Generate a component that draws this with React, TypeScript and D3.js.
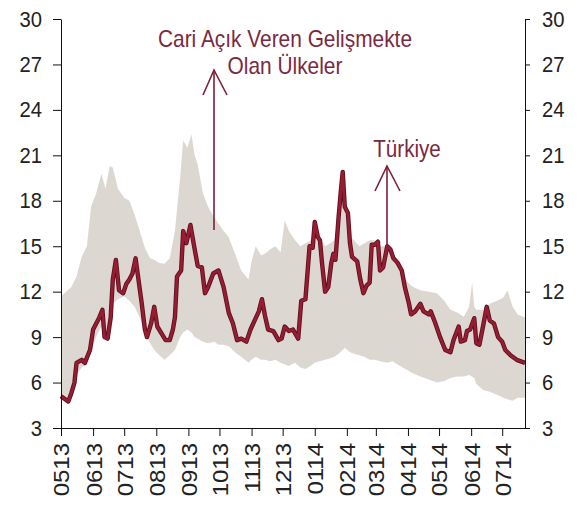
import React, { useEffect, useRef } from "react";
import * as d3 from "d3";

const domainStart = "2013-05-01";
const domainEnd = "2014-07-23";

const yTicks = [3, 6, 9, 12, 15, 18, 21, 24, 27, 30];

const xTickDates = [
  "2013-05-01", "2013-06-01", "2013-07-01", "2013-08-01", "2013-09-01",
  "2013-10-01", "2013-11-01", "2013-12-01", "2014-01-01", "2014-02-01",
  "2014-03-01", "2014-04-01", "2014-05-01", "2014-06-01", "2014-07-01",
];
const xTickLabels = [
  "0513", "0613", "0713", "0813", "0913", "1013", "1113", "1213",
  "0114", "0214", "0314", "0414", "0514", "0614", "0714",
];

const turkeyDates = [
  "2013-05-01", "2013-05-08", "2013-05-11", "2013-05-14", "2013-05-16", "2013-05-21",
  "2013-05-24", "2013-05-29", "2013-06-01", "2013-06-04", "2013-06-07", "2013-06-10",
  "2013-06-12", "2013-06-15", "2013-06-18", "2013-06-20", "2013-06-23", "2013-06-26",
  "2013-06-30", "2013-07-03", "2013-07-06", "2013-07-09", "2013-07-12", "2013-07-14",
  "2013-07-18", "2013-07-21", "2013-07-23", "2013-07-27", "2013-07-30", "2013-08-02",
  "2013-08-06", "2013-08-10", "2013-08-14", "2013-08-17", "2013-08-19", "2013-08-21",
  "2013-08-25", "2013-08-27", "2013-08-30", "2013-09-03", "2013-09-06", "2013-09-10",
  "2013-09-14", "2013-09-17", "2013-09-20", "2013-09-25", "2013-09-30", "2013-10-05",
  "2013-10-10", "2013-10-14", "2013-10-18", "2013-10-22", "2013-10-27", "2013-10-31",
  "2013-11-04", "2013-11-08", "2013-11-11", "2013-11-14", "2013-11-17", "2013-11-22",
  "2013-11-27", "2013-11-30", "2013-12-03", "2013-12-07", "2013-12-11", "2013-12-16",
  "2013-12-19", "2013-12-23", "2013-12-27", "2013-12-30", "2014-01-01", "2014-01-04",
  "2014-01-06", "2014-01-08", "2014-01-11", "2014-01-14", "2014-01-17", "2014-01-19",
  "2014-01-21", "2014-01-24", "2014-01-26", "2014-01-28", "2014-01-30", "2014-02-02",
  "2014-02-04", "2014-02-06", "2014-02-11", "2014-02-14", "2014-02-17", "2014-02-20",
  "2014-02-23", "2014-02-25", "2014-02-28", "2014-03-03", "2014-03-05", "2014-03-08",
  "2014-03-12", "2014-03-15", "2014-03-18", "2014-03-22", "2014-03-26", "2014-03-29",
  "2014-04-02", "2014-04-04", "2014-04-08", "2014-04-13", "2014-04-16", "2014-04-21",
  "2014-04-23", "2014-04-27", "2014-05-02", "2014-05-07", "2014-05-12", "2014-05-15",
  "2014-05-20", "2014-05-22", "2014-05-26", "2014-05-28", "2014-05-31", "2014-06-04",
  "2014-06-06", "2014-06-09", "2014-06-13", "2014-06-16", "2014-06-19", "2014-06-23",
  "2014-06-27", "2014-07-01", "2014-07-04", "2014-07-09", "2014-07-15", "2014-07-23",
];
const turkeyValues = [
  5.1, 4.75, 5.3, 6.0, 7.3, 7.5,
  7.3, 8.15, 9.5, 9.9, 10.3, 10.8,
  9.0, 8.9, 10.3, 12.8, 14.1, 12.1,
  11.9, 12.5, 12.8, 13.2, 14.2, 13.2,
  11.2, 9.5, 9.0, 9.9, 11.0, 9.7,
  9.25, 8.8, 8.8, 9.5, 10.3, 13.0,
  13.4, 16.0, 15.2, 16.4, 15.2, 13.7,
  13.6, 11.9, 12.3, 13.2, 13.4, 12.3,
  10.6, 9.9, 8.8, 8.9, 8.7, 9.5,
  10.1, 10.7, 11.5, 10.4, 9.5, 9.4,
  8.8, 8.9, 9.7, 9.4, 9.5, 8.9,
  11.4, 11.5, 15.0, 14.9, 16.6, 15.6,
  15.4, 13.9, 12.0, 12.3, 13.9, 14.5,
  14.1, 16.9, 18.5, 19.9, 17.6, 17.2,
  15.2, 14.3, 14.0, 12.8, 11.9, 12.4,
  12.6, 15.1, 15.1, 15.3, 13.4, 13.6,
  15.0, 14.8, 14.2, 13.9, 13.4, 12.3,
  11.2, 10.5, 10.7, 11.2, 10.7, 10.5,
  10.7, 10.0, 9.0, 8.15, 8.0, 8.8,
  9.7, 8.7, 8.8, 9.4, 9.5, 10.25,
  8.6, 8.5, 9.9, 11.0, 10.1, 9.9,
  9.0, 8.7, 8.15, 7.8, 7.5, 7.3,
];

const bandDates = [
  "2013-05-01", "2013-05-06", "2013-05-11", "2013-05-16", "2013-05-21", "2013-05-26",
  "2013-05-30", "2013-06-04", "2013-06-09", "2013-06-13", "2013-06-17", "2013-06-20",
  "2013-06-25", "2013-07-01", "2013-07-06", "2013-07-11", "2013-07-16", "2013-07-21",
  "2013-07-26", "2013-07-30", "2013-08-04", "2013-08-09", "2013-08-14", "2013-08-19",
  "2013-08-24", "2013-08-27", "2013-08-31", "2013-09-04", "2013-09-07", "2013-09-10",
  "2013-09-15", "2013-09-20", "2013-09-26", "2013-09-30", "2013-10-05", "2013-10-10",
  "2013-10-16", "2013-10-22", "2013-10-29", "2013-11-01", "2013-11-05", "2013-11-10",
  "2013-11-14", "2013-11-19", "2013-11-24", "2013-11-29", "2013-12-03", "2013-12-07",
  "2013-12-13", "2013-12-18", "2013-12-23", "2013-12-28", "2014-01-01", "2014-01-06",
  "2014-01-11", "2014-01-16", "2014-01-20", "2014-01-24", "2014-01-28", "2014-01-30",
  "2014-02-04", "2014-02-08", "2014-02-13", "2014-02-18", "2014-02-23", "2014-02-28",
  "2014-03-05", "2014-03-12", "2014-03-17", "2014-03-22", "2014-03-27", "2014-04-01",
  "2014-04-06", "2014-04-13", "2014-04-21", "2014-04-29", "2014-05-06", "2014-05-12",
  "2014-05-19", "2014-05-25", "2014-05-30", "2014-06-02", "2014-06-04", "2014-06-06",
  "2014-06-13", "2014-06-19", "2014-06-26", "2014-07-02", "2014-07-06", "2014-07-11",
  "2014-07-16", "2014-07-23",
];
const bandHigh = [
  11.7, 12.0, 12.3, 13.0, 14.3, 15.0,
  17.6, 18.5, 19.8, 18.8, 20.3, 20.2,
  18.8, 18.2, 18.0, 17.1, 16.0, 14.9,
  14.2, 14.1, 13.9, 13.85, 14.2, 16.0,
  19.5, 22.0, 21.5, 22.4, 21.0, 20.4,
  18.5, 17.6, 16.9, 16.5, 16.0, 15.6,
  14.5, 13.4, 12.8, 14.0, 15.0, 14.4,
  14.5, 14.8, 15.0, 14.6, 16.7, 16.0,
  15.4, 15.0, 15.2, 15.4, 16.9, 15.6,
  15.0, 15.2, 15.4, 16.9, 19.9, 17.6,
  15.6, 15.4, 15.0, 15.2, 15.4, 15.4,
  15.0, 15.0, 14.6, 14.0, 13.0, 12.6,
  12.3, 12.1, 12.0, 11.9, 11.4, 10.8,
  10.6, 10.35, 11.0, 12.6, 11.0, 10.8,
  10.8, 11.2, 11.4, 11.6, 12.1, 11.0,
  10.5, 10.3,
];
const bandLow = [
  5.0, 4.8, 5.3, 6.5, 7.0, 7.2,
  8.0, 9.0, 9.7, 8.8, 9.8, 11.2,
  11.5, 11.7, 11.4, 11.0, 10.3, 9.3,
  8.6, 8.15, 7.8, 7.5, 7.8, 8.15,
  9.0, 9.3, 9.5, 9.3, 9.0, 8.9,
  8.7, 8.6, 8.7, 8.5, 8.5, 8.4,
  8.0, 7.7, 7.3, 7.5, 7.7, 7.5,
  7.5, 7.4, 7.5, 7.3, 7.2, 7.1,
  7.3, 7.0, 6.9, 7.1, 7.3, 7.4,
  7.5, 7.6, 7.7, 7.9, 8.15, 8.3,
  8.0, 7.9, 7.8, 7.7, 7.5, 7.5,
  7.4, 7.3, 7.4, 7.2, 7.0, 6.8,
  6.6, 6.4, 6.2, 6.0, 6.1, 6.3,
  6.4, 6.4, 6.5, 6.4, 6.3, 5.9,
  5.5, 5.4, 5.2, 5.0, 4.9, 4.8,
  5.0, 5.0,
];

const FONT = "'Liberation Sans', Arial, Helvetica, sans-serif";

export default function App() {
  const ref = useRef<SVGSVGElement>(null);

  useEffect(() => {
    const svg = d3.select(ref.current);
    svg.selectAll("*").remove();
    const parse = d3.timeParse("%Y-%m-%d");

    const x = d3.scaleTime()
      .domain([parse(domainStart) as Date, parse(domainEnd) as Date])
      .range([61, 525]);
    const y = d3.scaleLinear().domain([3, 30]).range([428, 19]);

    const band = bandDates.map((d, i) => ({ date: parse(d) as Date, hi: bandHigh[i], lo: bandLow[i] }));
    const area = d3.area<any>()
      .x((d) => x(d.date))
      .y0((d) => y(d.lo))
      .y1((d) => y(d.hi));
    svg.append("path").attr("d", area(band) as string).attr("fill", "#ddd7d1");

    const tr = turkeyDates.map((d, i) => ({ date: parse(d) as Date, v: turkeyValues[i] }));
    const line = d3.line<any>().x((d) => x(d.date)).y((d) => y(d.v));
    svg.append("path").attr("d", line(tr) as string)
      .attr("fill", "none").attr("stroke", "#5e1020").attr("stroke-width", 4.4)
      .attr("stroke-linejoin", "round");
    svg.append("path").attr("d", line(tr) as string)
      .attr("fill", "none").attr("stroke", "#981d33").attr("stroke-width", 2.6)
      .attr("stroke-linejoin", "round");

    const styleAxis = (g: any, size: number) => {
      g.selectAll("path").attr("stroke", "#111");
      g.selectAll("line").attr("stroke", "#111");
      g.selectAll("text").attr("fill", "#222").style("font-family", FONT).style("font-size", size + "px");
      g.attr("font-family", null).attr("font-size", null);
    };

    const gl = svg.append("g").attr("transform", "translate(61,0)")
      .call(d3.axisLeft(y).tickValues(yTicks).tickSize(8).tickSizeOuter(0).tickPadding(11));
    styleAxis(gl, 22);
    gl.selectAll("text").each(function (this: any) {
      const t = d3.select(this);
      const xx = +t.attr("x");
      t.attr("x", 0).attr("transform", `translate(${xx},0) scale(0.92,1)`);
    });

    const gr = svg.append("g").attr("transform", "translate(525,0)")
      .call(d3.axisRight(y).tickValues(yTicks).tickSize(5).tickSizeOuter(0).tickPadding(12));
    styleAxis(gr, 22);
    gr.selectAll("text").each(function (this: any) {
      const t = d3.select(this);
      const xx = +t.attr("x");
      t.attr("x", 0).attr("transform", `translate(${xx},0) scale(0.92,1)`);
    });

    const gb = svg.append("g").attr("transform", "translate(0,428)")
      .call(
        d3.axisBottom(x)
          .tickValues(xTickDates.map((d) => parse(d) as Date))
          .tickFormat((_d: any, i: number) => xTickLabels[i])
          .tickSize(8)
          .tickSizeOuter(0)
      );
    styleAxis(gb, 24);
    gb.selectAll("text")
      .attr("transform", "rotate(-90) scale(1,0.92)")
      .attr("text-anchor", "end")
      .attr("x", -15)
      .attr("y", 0)
      .attr("dy", "0.36em");

    const annColor = "#7a2942";
    const arrowColor = "#7e1f37";
    const ann = svg.append("g").style("font-family", FONT).style("font-size", "24px").attr("fill", annColor);
    ann.append("text").attr("text-anchor", "middle")
      .attr("transform", "translate(285,47) scale(0.87,1)").text("Cari Açık Veren Gelişmekte");
    ann.append("text").attr("text-anchor", "middle")
      .attr("transform", "translate(285,74) scale(0.87,1)").text("Olan Ülkeler");
    ann.append("text").attr("text-anchor", "middle")
      .attr("transform", "translate(407,157) scale(0.86,1)").text("Türkiye");

    const arrows = svg.append("g").attr("stroke", arrowColor).attr("stroke-width", 1.6).attr("fill", "none");
    arrows.append("line").attr("x1", 214).attr("y1", 230).attr("x2", 214).attr("y2", 70);
    arrows.append("polyline").attr("points", "203,95 214,70 227,95");
    arrows.append("line").attr("x1", 387).attr("y1", 246).attr("x2", 387).attr("y2", 166);
    arrows.append("polyline").attr("points", "375,191 387,166 400,191");
  }, []);

  return (
    <svg
      ref={ref}
      width={581}
      height={507}
      style={{ position: "absolute", left: 0, top: 0, background: "#fff" }}
    />
  );
}
